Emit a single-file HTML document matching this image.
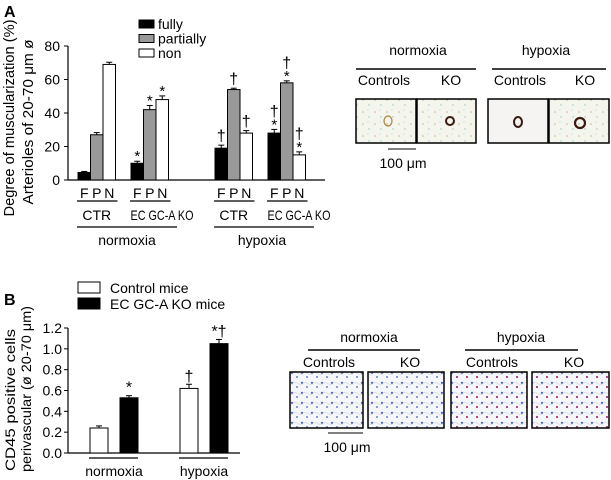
<!DOCTYPE html>
<html><head><meta charset="utf-8">
<style>
body{margin:0;background:#fff;}
svg{display:block;font-family:"Liberation Sans",Arial,sans-serif;}
</style></head>
<body>
<svg id="fig" width="611" height="480" viewBox="0 0 611 480">
<defs>
<pattern id="tissueA" width="12" height="12" patternUnits="userSpaceOnUse">
<rect width="12" height="12" fill="#f4f6ee"/>
<circle cx="3" cy="4" r="0.8" fill="#c9b48a"/><circle cx="9" cy="9" r="0.7" fill="#8fc7c0"/><circle cx="8" cy="2" r="0.6" fill="#b9d9cf"/>
</pattern>
<pattern id="tissueB" width="10" height="10" patternUnits="userSpaceOnUse">
<rect width="10" height="10" fill="#f6f7fb"/>
<circle cx="2" cy="3" r="1.2" fill="#4a64c0"/><circle cx="7" cy="7" r="1" fill="#6a80cc"/><path d="M0 5 Q5 0 10 5" stroke="#ccc" fill="none" stroke-width="0.5"/>
</pattern>
<pattern id="tissueB2" width="10" height="10" patternUnits="userSpaceOnUse">
<rect width="10" height="10" fill="#f6f7fb"/>
<circle cx="2" cy="3" r="1.2" fill="#4a64c0"/><circle cx="7" cy="7" r="1.1" fill="#a03c78"/><path d="M0 5 Q5 0 10 5" stroke="#ccc" fill="none" stroke-width="0.5"/>
</pattern>
</defs>
<g id="panelA"></g>
<g id="panelB"></g>

<g font-size="14">
<text x="418" y="55" text-anchor="middle">normoxia</text>
<line x1="356" y1="69" x2="476" y2="69" stroke="#000" stroke-width="1.5"/>
<text x="546" y="55" text-anchor="middle">hypoxia</text>
<line x1="492" y1="69" x2="606" y2="69" stroke="#000" stroke-width="1.5"/>
<text x="384" y="85" text-anchor="middle">Controls</text>
<text x="451" y="85" text-anchor="middle">KO</text>
<text x="520" y="85" text-anchor="middle">Controls</text>
<text x="585" y="85" text-anchor="middle">KO</text>
<rect x="356" y="99" width="60" height="44" fill="url(#tissueA)" stroke="#000" stroke-width="1.5"/>
<rect x="417" y="99" width="59" height="44" fill="url(#tissueA)" stroke="#000" stroke-width="1.5"/>
<rect x="488" y="99" width="60" height="44" fill="#f6f4f2" stroke="#000" stroke-width="1.5"/>
<rect x="549" y="99" width="60" height="44" fill="url(#tissueA)" stroke="#000" stroke-width="1.5"/>
<ellipse cx="388" cy="121" rx="4" ry="5" fill="none" stroke="#b08040" stroke-width="1.2"/>
<ellipse cx="450" cy="121" rx="4" ry="4" fill="none" stroke="#3a1a10" stroke-width="2"/>
<ellipse cx="518" cy="122" rx="4" ry="5" fill="none" stroke="#3a1a10" stroke-width="2"/>
<ellipse cx="580" cy="123" rx="5" ry="5" fill="none" stroke="#3a1a10" stroke-width="2.2"/>
<line x1="388" y1="149" x2="416" y2="149" stroke="#000"/>
<text x="403" y="168" text-anchor="middle">100 μm</text>
</g>

<g font-size="14">
<text x="369" y="342" text-anchor="middle">normoxia</text>
<line x1="308" y1="350" x2="420" y2="350" stroke="#000" stroke-width="1.5"/>
<text x="521" y="342" text-anchor="middle">hypoxia</text>
<line x1="465" y1="350" x2="578" y2="350" stroke="#000" stroke-width="1.5"/>
<text x="329" y="367" text-anchor="middle">Controls</text>
<text x="410" y="367" text-anchor="middle">KO</text>
<text x="492" y="367" text-anchor="middle">Controls</text>
<text x="574" y="367" text-anchor="middle">KO</text>
<rect x="290" y="372" width="73" height="56" fill="url(#tissueB)" stroke="#000" stroke-width="1.5"/>
<rect x="368" y="372" width="76" height="56" fill="url(#tissueB)" stroke="#000" stroke-width="1.5"/>
<rect x="451" y="372" width="76" height="56" fill="url(#tissueB2)" stroke="#000" stroke-width="1.5"/>
<rect x="532" y="372" width="77" height="56" fill="url(#tissueB2)" stroke="#000" stroke-width="1.5"/>
<line x1="328" y1="433" x2="363" y2="433" stroke="#000"/>
<text x="347" y="452" text-anchor="middle">100 μm</text>
</g>
</svg>
<script>
// Panel A data
const catsA = ["CTR normoxia","EC GC-A KO normoxia","CTR hypoxia","EC GC-A KO hypoxia"];
const fully = [4.5, 10, 19, 28];
const partially = [27, 42, 54, 58];
const non = [69, 48, 28, 15];
const errFully = [0.6, 1.2, 1.8, 2.2];
const errPartially = [1.3, 2.5, 0.8, 1.2];
const errNon = [1.3, 2.2, 1.5, 1.8];
const marksFully = ["", "*", "†", "†*"];
const marksPartially = ["", "*", "†", "†*"];
const marksNon = ["", "*", "†", "†*"];
const ticksA = [0, 20, 40, 60, 80];
// Panel B data
const catsB = ["normoxia","hypoxia"];
const controlB = [0.24, 0.62];
const koB = [0.53, 1.05];
const errControlB = [0.02, 0.04];
const errKoB = [0.02, 0.04];
const marksControlB = ["", "†"];
const marksKoB = ["*", "*†"];
const ticksB = [0.0, 0.2, 0.4, 0.6, 0.8, 1.0, 1.2];

const NS = "http://www.w3.org/2000/svg";
function mk(parent, tag, attrs, text){
  const e = document.createElementNS(NS, tag);
  for (const k in attrs) e.setAttribute(k, attrs[k]);
  if (text !== undefined) e.textContent = text;
  parent.appendChild(e);
  return e;
}
function markText(parent, x, yTop, m){
  const chars = m.split("");
  let y = yTop;
  for (let i = chars.length - 1; i >= 0; i--) {
    const isStar = chars[i] === "*";
    const t = mk(parent, "text", {x: x, y: isStar ? y + 4 : y, "text-anchor": "middle", "font-size": isStar ? 15 : 16}, chars[i]);
    
    
    y -= isStar ? 9 : 15;
  }
}

// ---------- Panel A ----------
(function(){
  const g = document.getElementById("panelA");
  const x0 = 68, y0 = 180, yTop = 46, xEnd = 325;
  const yA = v => y0 - (v / 80) * (y0 - yTop);
  const groupStart = [78, 131, 215, 268];
  const bw = 12.5;
  const lab = mk(g, "text", {x: 4, y: 17, "font-size": 16, "font-weight": "bold"}, "A");
  
  
  mk(g, "line", {x1: x0, y1: yTop, x2: x0, y2: y0, stroke: "#000", "stroke-width": 1.2});
  mk(g, "line", {x1: x0, y1: y0, x2: xEnd, y2: y0, stroke: "#000", "stroke-width": 1.2});
  ticksA.forEach(t => {
    mk(g, "line", {x1: x0 - 4, y1: yA(t), x2: x0, y2: yA(t), stroke: "#000"});
    const tx = mk(g, "text", {x: x0 - 8, y: yA(t) + 5, "text-anchor": "end", "font-size": 14}, t);
    
    
  });
  const yt = mk(g, "text", {transform: "translate(14,118) rotate(-90)", "text-anchor": "middle", "font-size": 15, textLength: 197, lengthAdjust: "spacingAndGlyphs"}, "Degree of muscularization (%)");
  
  
  const yt2 = mk(g, "text", {transform: "translate(33,122) rotate(-90)", "text-anchor": "middle", "font-size": 15, textLength: 165, lengthAdjust: "spacingAndGlyphs"}, "Arterioles of 20-70 μm ø");
  
  
  const series = [
    {v: fully, e: errFully, m: marksFully, fill: "#000", name: "fully"},
    {v: partially, e: errPartially, m: marksPartially, fill: "#999", name: "partially"},
    {v: non, e: errNon, m: marksNon, fill: "#fff", name: "non"}
  ];
  catsA.forEach((c, i) => {
    series.forEach((s, j) => {
      const x = groupStart[i] + j * bw;
      const yv = yA(s.v[i]);
      const ye = yA(s.v[i] + s.e[i]);
      mk(g, "line", {x1: x + bw/2, y1: yv, x2: x + bw/2, y2: ye, stroke: "#000"});
      mk(g, "line", {x1: x + bw/2 - 3, y1: ye, x2: x + bw/2 + 3, y2: ye, stroke: "#000"});
      const r = mk(g, "rect", {x: x, y: yv, width: bw, height: y0 - yv, fill: s.fill, stroke: "#000", "stroke-width": 1});
      
      
      if (s.m[i]) markText(g, x + bw/2, ye - 4, s.m[i]);
    });
    ["F","P","N"].forEach((L, j) => {
      const t = mk(g, "text", {x: groupStart[i] + j * bw + bw/2, y: 198, "text-anchor": "middle", "font-size": 14}, L);
      
      
    });
    mk(g, "line", {x1: groupStart[i] - 1, y1: 201, x2: groupStart[i] + 3 * bw + 2, y2: 201, stroke: "#000", "stroke-width": 1.2});
    const isCtr = i % 2 === 0;
    const attrs = isCtr
      ? {x: groupStart[i] + 1.5 * bw, y: 220, "text-anchor": "middle", "font-size": 14}
      : {x: groupStart[i] + 31, y: 220, "text-anchor": "middle", "font-size": 14, textLength: 63, lengthAdjust: "spacingAndGlyphs"};
    const gl = mk(g, "text", attrs, isCtr ? "CTR" : "EC GC-A KO");
    
    
  });
  mk(g, "line", {x1: 77, y1: 227, x2: 177, y2: 227, stroke: "#000", "stroke-width": 1.2});
  mk(g, "line", {x1: 214, y1: 227, x2: 314, y2: 227, stroke: "#000", "stroke-width": 1.2});
  const n = mk(g, "text", {x: 127, y: 245, "text-anchor": "middle", "font-size": 14}, "normoxia");
  
  
  const h = mk(g, "text", {x: 262, y: 245, "text-anchor": "middle", "font-size": 14}, "hypoxia");
  
  
  series.forEach((s, j) => {
    const ly = 20 + j * 14.5;
    const r = mk(g, "rect", {x: 139, y: ly, width: 15, height: 8, fill: s.fill, stroke: "#000"});
    
    
    const t = mk(g, "text", {x: 158, y: ly + 9, "font-size": 14}, s.name);
    
    
  });
})();

// ---------- Panel B ----------
(function(){
  const g = document.getElementById("panelB");
  const x0 = 68, y0 = 453, yTop = 328, xEnd = 240;
  const yB = v => y0 - (v / 1.2) * (y0 - yTop);
  const starts = [90, 180];
  const bw = 18, gap = 30;
  const lab = mk(g, "text", {x: 4, y: 305, "font-size": 16, "font-weight": "bold"}, "B");
  
  
  mk(g, "line", {x1: x0, y1: yTop, x2: x0, y2: y0, stroke: "#000", "stroke-width": 1.2});
  mk(g, "line", {x1: x0, y1: y0, x2: xEnd, y2: y0, stroke: "#000", "stroke-width": 1.2});
  ticksB.forEach(t => {
    mk(g, "line", {x1: x0 - 4, y1: yB(t), x2: x0, y2: yB(t), stroke: "#000"});
    const tx = mk(g, "text", {x: x0 - 6, y: yB(t) + 5, "text-anchor": "end", "font-size": 14}, t.toFixed(1));
    
    
  });
  const yt = mk(g, "text", {transform: "translate(15,400) rotate(-90)", "text-anchor": "middle", "font-size": 14, textLength: 142, lengthAdjust: "spacingAndGlyphs"}, "CD45 positive cells");
  
  
  const yt2 = mk(g, "text", {transform: "translate(31,389) rotate(-90)", "text-anchor": "middle", "font-size": 14, textLength: 166, lengthAdjust: "spacingAndGlyphs"}, "perivascular (ø 20-70 μm)");
  
  
  const series = [
    {v: controlB, e: errControlB, m: marksControlB, fill: "#fff", name: "control"},
    {v: koB, e: errKoB, m: marksKoB, fill: "#000", name: "ko"}
  ];
  catsB.forEach((c, i) => {
    series.forEach((s, j) => {
      const x = starts[i] + j * gap;
      const yv = yB(s.v[i]);
      const ye = yB(s.v[i] + s.e[i]);
      mk(g, "line", {x1: x + bw/2, y1: yv, x2: x + bw/2, y2: ye, stroke: "#000"});
      mk(g, "line", {x1: x + bw/2 - 3, y1: ye, x2: x + bw/2 + 3, y2: ye, stroke: "#000"});
      const r = mk(g, "rect", {x: x, y: yv, width: bw, height: y0 - yv, fill: s.fill, stroke: "#000", "stroke-width": 1});
      
      
      if (s.m[i]) {
        const t = mk(g, "text", {x: x + bw/2, y: ye - 3, "text-anchor": "middle", "font-size": 16}, s.m[i]);
        
        
      }
    });
    mk(g, "line", {x1: starts[i] - 1, y1: 458, x2: starts[i] + gap + bw, y2: 458, stroke: "#000", "stroke-width": 1.2});
    const t = mk(g, "text", {x: starts[i] + (gap + bw)/2, y: 476, "text-anchor": "middle", "font-size": 14}, c);
    
    
  });
  const leg = [["Control mice", "#fff"], ["EC GC-A KO mice", "#000"]];
  leg.forEach((L, j) => {
    const ly = 282 + j * 16;
    const r = mk(g, "rect", {x: 78, y: ly, width: 22, height: 11, fill: L[1], stroke: "#000"});
    
    
    const t = mk(g, "text", {x: 110, y: ly + 11, "font-size": 14}, L[0]);
    
    
  });
})();
</script>
</body></html>
